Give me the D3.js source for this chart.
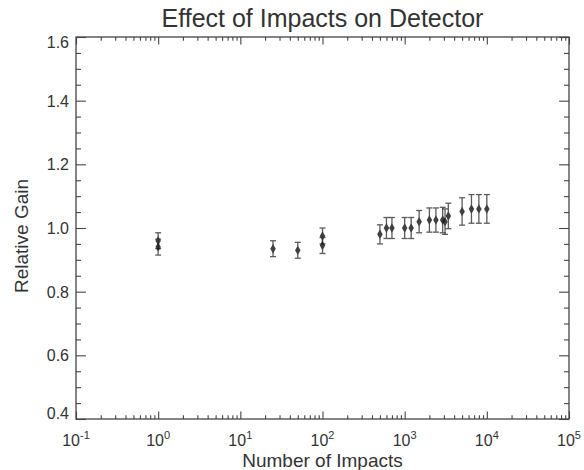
<!DOCTYPE html>
<html>
<head>
<meta charset="utf-8">
<script src="https://cdn.jsdelivr.net/npm/d3@7"></script>
<style>
  body { margin: 0; background: #fff; }
  text { font-family: "Liberation Sans", Arial, sans-serif; fill: #333; }
</style>
</head>
<body>
<div id="graph"></div>
<script>
let width = 584;
let height = 470;

// data
let impacts = [1, 1, 25, 50, 100, 100, 500, 600, 700, 1000, 1200, 1500, 2000, 2400, 2900, 3100, 3400, 5000, 6500, 8000, 10000];
let gain    = [0.96, 0.94, 0.935, 0.93, 0.975, 0.945, 0.98, 1.0, 1.0, 1.0, 1.0, 1.02, 1.025, 1.025, 1.025, 1.02, 1.038, 1.052, 1.06, 1.06, 1.06];
let gainErr = [0.025, 0.025, 0.025, 0.025, 0.025, 0.025, 0.03, 0.033, 0.033, 0.033, 0.033, 0.035, 0.038, 0.038, 0.04, 0.04, 0.04, 0.043, 0.045, 0.045, 0.045];

let xMajor = [0.1, 1, 10, 100, 1000, 10000, 100000];
let xExp   = ["-1", "0", "1", "2", "3", "4", "5"];
let yMajor = [0.4, 0.6, 0.8, 1.0, 1.2, 1.4, 1.6];

let pLeft = 76, pRight = 569, pTop = 37, pBottom = 419;

let svg = d3.select('#graph')
    .append('svg')
        .attr('width', width)
        .attr('height', height);

let x = d3.scaleLog().domain([0.1, 1e5]).range([pLeft, pRight]);
let y = d3.scaleLinear().domain([0.4, 1.6]).range([pBottom, pTop]);

// minor ticks: 2..9 in every decade, every 0.05 in y
let xMinor = x.ticks().filter(v => xMajor.indexOf(v) < 0);
let yMinor = d3.range(0.45, 1.6, 0.05).map(v => +v.toFixed(2)).filter(v => Math.abs(v * 5 - Math.round(v * 5)) > 1e-6);

let axisColor = '#444';

function styleAxis(g) {
    g.selectAll('path, line').attr('stroke', axisColor).attr('stroke-width', 1.1);
    g.select('.domain').remove();
}

// bottom
svg.append('g').attr('transform', 'translate(0,' + pBottom + ')')
    .call(d3.axisBottom(x).tickValues(xMajor).tickSize(-7.6).tickFormat(''))
    .call(styleAxis);
svg.append('g').attr('transform', 'translate(0,' + pBottom + ')')
    .call(d3.axisBottom(x).tickValues(xMinor).tickSize(-3.8).tickFormat(''))
    .call(styleAxis);
// top
svg.append('g').attr('transform', 'translate(0,' + pTop + ')')
    .call(d3.axisTop(x).tickValues(xMajor).tickSize(-7.6).tickFormat(''))
    .call(styleAxis);
svg.append('g').attr('transform', 'translate(0,' + pTop + ')')
    .call(d3.axisTop(x).tickValues(xMinor).tickSize(-3.8).tickFormat(''))
    .call(styleAxis);
// left
svg.append('g').attr('transform', 'translate(' + pLeft + ',0)')
    .call(d3.axisLeft(y).tickValues(yMajor).tickSize(-9.9).tickFormat(''))
    .call(styleAxis);
svg.append('g').attr('transform', 'translate(' + pLeft + ',0)')
    .call(d3.axisLeft(y).tickValues(yMinor).tickSize(-5).tickFormat(''))
    .call(styleAxis);
// right
svg.append('g').attr('transform', 'translate(' + pRight + ',0)')
    .call(d3.axisRight(y).tickValues(yMajor).tickSize(-9.9).tickFormat(''))
    .call(styleAxis);
svg.append('g').attr('transform', 'translate(' + pRight + ',0)')
    .call(d3.axisRight(y).tickValues(yMinor).tickSize(-5).tickFormat(''))
    .call(styleAxis);

// box
svg.append('rect')
    .attr('x', pLeft).attr('y', pTop)
    .attr('width', pRight - pLeft).attr('height', pBottom - pTop)
    .attr('fill', 'none').attr('stroke', axisColor).attr('stroke-width', 1.3);

// x tick labels 10^n
let xl = svg.append('g').selectAll('text')
    .data(xMajor)
    .enter().append('text')
    .attr('x', d => x(d))
    .attr('y', pBottom + 27)
    .attr('text-anchor', 'middle')
    .style('font-size', '16px');
xl.append('tspan').text('10');
xl.append('tspan').attr('dy', -7).style('font-size', '11px').text((d, i) => xExp[i]);

// y tick labels
svg.append('g').selectAll('text')
    .data(yMajor)
    .enter().append('text')
    .attr('x', pLeft - 7)
    .attr('y', d => y(d))
    .attr('dy', d => d == 1.6 ? 11 : (d == 0.4 ? 0 : 6))
    .attr('text-anchor', 'end')
    .style('font-size', '16px')
    .text(d => d.toFixed(1));

// title and axis titles
svg.append('text')
    .attr('x', (pLeft + pRight) / 2).attr('y', 27)
    .attr('text-anchor', 'middle')
    .style('font-size', '25px')
    .text('Effect of Impacts on Detector');
svg.append('text')
    .attr('x', (pLeft + pRight) / 2).attr('y', 467)
    .attr('text-anchor', 'middle')
    .style('font-size', '19px')
    .text('Number of Impacts');
svg.append('text')
    .attr('transform', 'translate(28,' + ((pTop + pBottom) / 2 + 8) + ') rotate(-90)')
    .attr('text-anchor', 'middle')
    .style('font-size', '19px')
    .text('Relative Gain');

// error bars
let pts = svg.append('g').selectAll('g')
    .data(impacts)
    .enter().append('g')
    .attr('stroke', '#333')
    .attr('stroke-width', 1.3)
    .attr('opacity', 0.8);
pts.append('line')
    .attr('x1', d => x(d)).attr('x2', d => x(d))
    .attr('y1', (d, i) => y(gain[i] - gainErr[i]))
    .attr('y2', (d, i) => y(gain[i] + gainErr[i]));
pts.append('line')
    .attr('x1', d => x(d) - 3).attr('x2', d => x(d) + 3)
    .attr('y1', (d, i) => y(gain[i] + gainErr[i]))
    .attr('y2', (d, i) => y(gain[i] + gainErr[i]));
pts.append('line')
    .attr('x1', d => x(d) - 3).attr('x2', d => x(d) + 3)
    .attr('y1', (d, i) => y(gain[i] - gainErr[i]))
    .attr('y2', (d, i) => y(gain[i] - gainErr[i]));
pts.append('path')
    .attr('d', d3.symbol().type(d3.symbolDiamond).size(26))
    .attr('transform', (d, i) => 'translate(' + x(d) + ',' + y(gain[i]) + ')')
    .attr('fill', '#111')
    .attr('stroke', 'none');
</script>
</body>
</html>
